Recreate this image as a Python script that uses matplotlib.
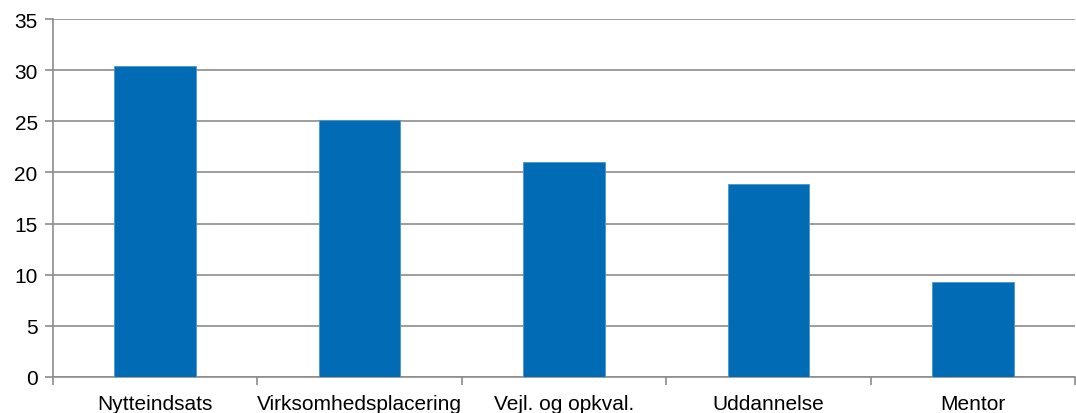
import numpy as np
import matplotlib
matplotlib.use("Agg")
import matplotlib.pyplot as plt

# ── data ──────────────────────────────────────────────────────────────────────

categories = ["Nytteindsats", "Virksomhedsplacering", "Vejl. og opkval.",
              "Uddannelse", "Mentor"]
values = [30.4, 25.1, 21.0, 18.9, 9.3]
yticks = [0, 5, 10, 15, 20, 25, 30, 35]

plt.rcParams["font.family"] = ["Liberation Sans", "DejaVu Sans"]

# ── plot ──────────────────────────────────────────────────────────────────────

fig = plt.figure(figsize=(10.76, 4.14), dpi=100)
ax = fig.add_axes([53 / 1076, 36 / 414, 1022 / 1076, 358 / 414])

x = np.arange(len(categories))
ax.bar(x, values, width=0.4, color="#016CB5", edgecolor="#4F95CB",
       linewidth=0.6, zorder=3)

ax.set_xlim(-0.5, len(categories) - 0.5)
ax.set_ylim(0, 35)
ax.set_yticks(yticks)
ax.set_yticklabels([str(t) for t in yticks], fontsize=15)

ax.set_xticks(x)
ax.set_xticklabels(categories, fontsize=15)
ax.tick_params(axis="x", length=0, pad=12)
# category boundary ticks
ax.set_xticks(np.arange(len(categories) + 1) - 0.5, minor=True)
ax.tick_params(axis="x", which="minor", length=6, color="#8c8c8c", width=1.2)
ax.tick_params(axis="y", length=6, color="#8c8c8c", width=1.2, pad=5)

ax.yaxis.grid(True, color="#8c8c8c", linewidth=1.2, zorder=0)
ax.set_axisbelow(True)

for s in ["top", "right"]:
    ax.spines[s].set_visible(False)
for s in ["left", "bottom"]:
    ax.spines[s].set_color("#8c8c8c")
    ax.spines[s].set_linewidth(1.2)

fig.savefig("out.png", dpi=100)
